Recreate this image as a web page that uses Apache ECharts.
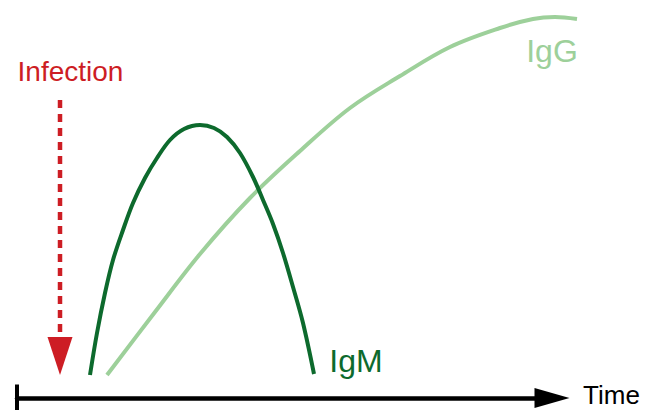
<!DOCTYPE html>
<html>
<head>
<meta charset="utf-8">
<script src="https://cdn.jsdelivr.net/npm/echarts@6/dist/echarts.min.js"></script>
<style>
html, body { margin: 0; padding: 0; background: #fff; }
#chart { width: 656px; height: 410px; }
</style>
</head>
<body>
<div id="chart"></div>
<script>
// time counted from the left end of the axis, level up from the axis
var igmTime = [73, 80, 88, 96, 106, 116, 128, 140, 153, 167, 183, 197, 210, 223, 236, 246, 256, 266, 276, 286, 297];
var igmLevel = [23, 65, 105, 138, 168, 195, 220, 240, 258, 269, 273, 270, 261, 245, 221, 198, 174, 145, 111, 75, 24];

var iggTime = [90, 138, 183, 233, 283, 333, 383, 433, 483, 516, 538, 560];
var iggLevel = [23, 86, 144, 200, 247, 290, 322, 351, 370, 379, 381, 379];

var infectionTime = 43;
var infectionLevel = [298, 42];

var axisEnd = 535;
var axisName = 'Time';
var labelTexts = ['Infection', 'IgM', 'IgG'];

var fontFam = '"Liberation Sans", Arial, sans-serif';
var red = '#cd1d24';
var darkGreen = '#0d6a2d';
var lightGreen = '#9dd09a';

function pairs(xs, ys) {
    return xs.map(function (x, i) { return [x, ys[i]]; });
}

var chartDom = document.getElementById('chart');
var chart = echarts.init(chartDom, null, { renderer: 'svg' });

var lastIgm = igmTime.length - 1;
var lastIgg = iggTime.length - 1;

// grid 0 holds the drawn time arrow, grid 1 (same scale, wider) holds the curves
var option = {
    animation: false,
    backgroundColor: '#fff',
    grid: [
        { left: 17, right: 104, top: 0, bottom: 12 },
        { left: 17, right: 0, top: 0, bottom: 12 }
    ],
    xAxis: [
        {
            gridIndex: 0,
            type: 'value',
            min: 0,
            max: axisEnd,
            axisLine: {
                show: true,
                onZero: false,
                symbol: ['path://M0,0L27,0L27,4L0,4Z', 'path://M10,0L20,35L0,35Z'],
                symbolSize: [27, 35],
                lineStyle: { color: '#000', width: 4.5 }
            },
            axisTick: { show: false },
            axisLabel: { show: false },
            splitLine: { show: false }
        },
        {
            gridIndex: 1,
            type: 'value',
            min: 0,
            max: 639,
            show: false
        }
    ],
    yAxis: [
        { gridIndex: 0, type: 'value', min: 0, max: 398, show: false },
        { gridIndex: 1, type: 'value', min: 0, max: 398, show: false }
    ],
    series: [
        {
            name: 'IgG',
            type: 'line',
            xAxisIndex: 1,
            yAxisIndex: 1,
            data: pairs(iggTime, iggLevel),
            smooth: 0.35,
            showSymbol: false,
            clip: false,
            lineStyle: { color: lightGreen, width: 4 },
            z: 2
        },
        {
            name: 'IgM',
            type: 'line',
            xAxisIndex: 1,
            yAxisIndex: 1,
            data: pairs(igmTime, igmLevel),
            smooth: 0.35,
            showSymbol: false,
            clip: false,
            lineStyle: { color: darkGreen, width: 4 },
            z: 3
        },
        {
            name: 'Infection',
            type: 'line',
            xAxisIndex: 1,
            yAxisIndex: 1,
            data: pairs([infectionTime, infectionTime], infectionLevel),
            showSymbol: false,
            clip: false,
            lineStyle: { color: red, width: 4.5, type: [8, 6] },
            z: 3
        },
        {
            name: 'Infection head',
            type: 'scatter',
            xAxisIndex: 1,
            yAxisIndex: 1,
            data: [[infectionTime, infectionLevel[1]]],
            symbol: 'triangle',
            symbolRotate: 180,
            symbolSize: [25, 38],
            itemStyle: { color: red, opacity: 1 },
            clip: false,
            z: 4
        },
        {
            name: 'labels',
            type: 'scatter',
            xAxisIndex: 1,
            yAxisIndex: 1,
            symbolSize: 1,
            clip: false,
            itemStyle: { color: 'rgba(255,255,255,0)', opacity: 1 },
            label: {
                show: true,
                position: 'inside',
                align: 'center',
                verticalAlign: 'middle',
                fontFamily: fontFam
            },
            data: [
                {
                    value: [infectionTime, infectionLevel[0]],
                    label: { formatter: labelTexts[0], color: red, fontSize: 28, offset: [10.5, -29] }
                },
                {
                    value: [igmTime[lastIgm], igmLevel[lastIgm]],
                    label: { formatter: labelTexts[1], color: darkGreen, fontSize: 32, offset: [42, -13.5] }
                },
                {
                    value: [iggTime[lastIgg], iggLevel[lastIgg]],
                    label: { formatter: labelTexts[2], color: lightGreen, fontSize: 32, offset: [-25, 32] }
                },
                {
                    value: [axisEnd, 0],
                    label: { formatter: axisName, color: '#000', fontSize: 26, offset: [59.5, -3] }
                }
            ],
            z: 5
        }
    ]
};

chart.setOption(option);
</script>
</body>
</html>
